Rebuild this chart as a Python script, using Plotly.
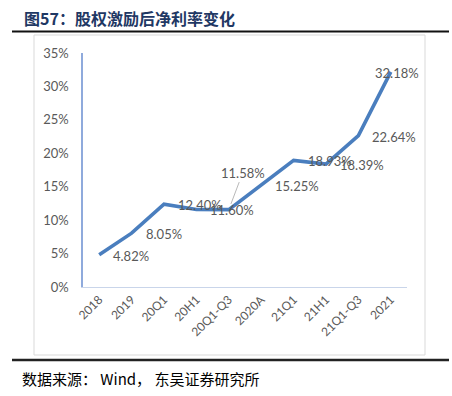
import plotly.graph_objects as go

categories = ["2018", "2019", "20Q1", "20H1", "20Q1-Q3", "2020A", "21Q1", "21H1", "21Q1-Q3", "2021"]
net_margin = [4.82, 8.05, 12.40, 11.60, 11.58, 15.25, 18.93, 18.39, 22.64, 32.18]
y_ticks = [0, 5, 10, 15, 20, 25, 30, 35]
y_tick_labels = ["0%", "5%", "10%", "15%", "20%", "25%", "30%", "35%"]

W, H = 452, 396
L, R, T, B = 83, 407, 53, 287

def px(x):
    return (x - L) / (R - L)

def py(y):
    return (B - y) / (B - T)

xi = list(range(len(categories)))

fig = go.Figure()
fig.add_trace(go.Scatter(
    x=xi, y=[v / 100 for v in net_margin], mode="lines",
    line=dict(color="#4A7EBE", width=3.6), hoverinfo="skip", showlegend=False,
))

label_font = dict(family="Lato, Carlito, Calibri, sans-serif", size=13, color="#595959")
tick_font = dict(family="Lato, Carlito, Calibri, sans-serif", size=12, color="#595959")
annotations = []
for i, (c, v) in enumerate(zip(categories, net_margin)):
    txt = f"{v:.2f}%"
    if c == "20Q1-Q3":
        annotations.append(dict(x=i, y=v / 100, xref="x", yref="y", text=txt, showarrow=True,
                                arrowhead=0, arrowwidth=0.8, arrowcolor="#A6A6A6", ax=14, ay=-37,
                                standoff=6, font=label_font))
    elif c == "2021":
        annotations.append(dict(x=i, y=v / 100, xref="x", yref="y", text=txt, showarrow=False,
                                xanchor="center", yanchor="middle", xshift=6, yshift=-1, font=label_font))
    else:
        annotations.append(dict(x=i, y=v / 100, xref="x", yref="y", text=txt, showarrow=False,
                                xanchor="left", yanchor="middle", xshift=12, yshift=-1, font=label_font))

annotations.append(dict(x=px(22), y=py(17.5), xref="paper", yref="paper", xanchor="left", yanchor="middle",
                        text="<b>图57：股权激励后净利率变化</b>", showarrow=False,
                        font=dict(family="Noto Sans CJK SC", size=16, color="#1F3864")))
annotations.append(dict(x=px(20), y=py(378), xref="paper", yref="paper", xanchor="left", yanchor="middle",
                        text="数据来源： Wind， 东吴证券研究所", showarrow=False,
                        font=dict(family="Noto Sans CJK SC", size=15, color="#000000")))

shapes = [
    dict(type="rect", xref="paper", yref="paper", x0=px(34), x1=px(425), y0=py(355), y1=py(35),
         line=dict(color="#D9D9D9", width=1), fillcolor="rgba(0,0,0,0)", layer="below"),
    dict(type="line", xref="paper", yref="paper", x0=px(12), x1=px(449), y0=py(31.5), y1=py(31.5),
         line=dict(color="#111111", width=2)),
    dict(type="line", xref="paper", yref="paper", x0=px(12), x1=px(449), y0=py(360), y1=py(360),
         line=dict(color="#222222", width=2.5)),
]

fig.update_layout(
    width=W, height=H,
    margin=dict(l=L, r=W - R, t=T, b=H - B, pad=0),
    paper_bgcolor="white", plot_bgcolor="white",
    showlegend=False,
    annotations=annotations, shapes=shapes,
    xaxis=dict(range=[-0.5, len(categories) - 0.5], tickvals=xi, ticktext=categories,
               showgrid=False, showline=True, linecolor="#C9D5EA", linewidth=1,
               tickangle=-45, ticks="", tickfont=tick_font, zeroline=False, fixedrange=True),
    yaxis=dict(range=[0, 0.35], tickvals=[t / 100 for t in y_ticks], ticktext=y_tick_labels,
               showgrid=False, showline=True, linecolor="#8FAADC", linewidth=1.5, ticks="",
               ticklabelstandoff=10, tickfont=label_font, zeroline=False, fixedrange=True),
)

fig.write_html("out.html", config={"displayModeBar": False},
               post_script="document.body.style.margin='0px';")
